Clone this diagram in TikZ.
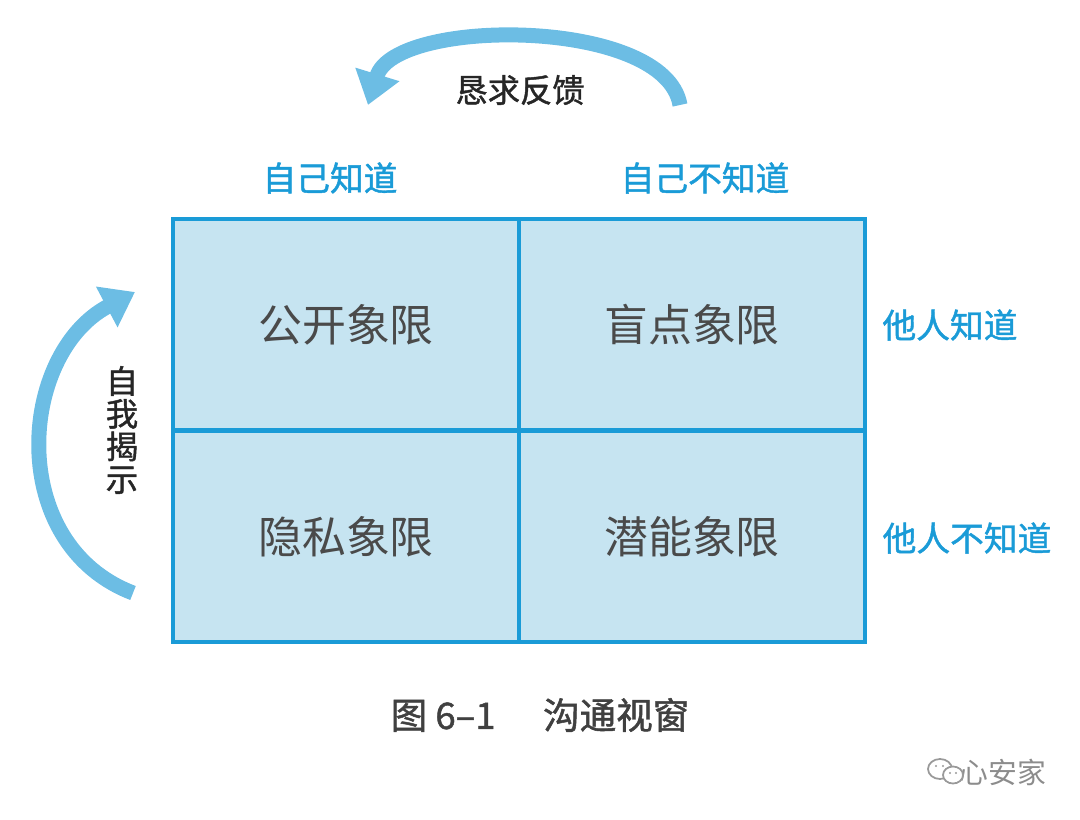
\documentclass[tikz,border=0pt]{standalone}
\usepackage{fontspec}
\usepackage{tikz}
\usetikzlibrary{arrows.meta}
\newfontfamily\cjk{Noto Sans CJK SC}
\newfontfamily\cjkb[FakeBold=1.3]{Noto Sans CJK SC}
\definecolor{gridblue}{HTML}{1A9BD7}
\definecolor{cellfill}{HTML}{C6E4F1}
\definecolor{arcblue}{HTML}{6CBDE4}
\definecolor{quadgray}{HTML}{4A4A4A}

\begin{document}
\begin{tikzpicture}[
    cell/.style={draw=gridblue, fill=cellfill, line width=1.2pt, minimum width=3.46cm, minimum height=2.115cm, inner sep=0pt, text=quadgray, font=\cjk\fontsize{12.5}{14}\selectfont},
    side/.style={text=gridblue, font=\cjkb\fontsize{9.6}{11}\selectfont},
    turn/.style={arcblue, line width=0.15cm, -{Triangle[width=0.44cm,length=0.32cm]}},
    act/.style={text=black!85, font=\cjkb\fontsize{9.2}{9.3}\selectfont, align=center}
]
    \useasboundingbox (0,0) rectangle (10.8,8.19);
    \node [cell] (0) at (3.46, 4.9425) {公开象限};
	\node [cell] (1) at (6.92, 4.9425) {盲点象限};
	\node [cell] (2) at (3.46, 2.8275) {隐私象限};
	\node [cell] (3) at (6.92, 2.8275) {潜能象限};
	\node [side] (4) at (3.30, 6.41) {自己知道};
	\node [side] (5) at (7.05, 6.41) {自己不知道};
	\node [side] (6) at (9.50, 4.94) {他人知道};
	\node [side] (7) at (9.67, 2.81) {他人不知道};
	\node [act] (8) at (5.20, 7.29) {恳求反馈};
	\node [act] (9) at (1.22, 3.89) {自\\我\\揭\\示};
	\node (10) at (6.80, 7.14) {};
	\node (11) at (3.68, 7.14) {};
	\node (12) at (1.33, 2.26) {};
	\node (13) at (1.35, 5.27) {};
	\node [text=black!75, font=\cjkb\fontsize{10.4}{12}\selectfont] (14) at (5.40, 1.04) {图 6–1\hspace{1.3em}沟通视窗};
	\node [text=black!45, font=\cjk\fontsize{8.2}{10}\selectfont] (15) at (10.03, 0.47) {心安家};
	% arrows
	\draw [turn] (10.center) .. controls (6.65, 8.02) and (3.95, 8.02) .. (11.center);
	\draw [turn] (12.center) .. controls (0.05, 2.75) and (0.18, 4.65) .. (13.center);
	% watermark icon
	\draw [black!40, line width=0.5pt] (9.40, 0.50) ellipse (0.12 and 0.10);
	\draw [black!40, line width=0.5pt, fill=white] (9.53, 0.44) ellipse (0.10 and 0.085);
	\fill [black!40] (9.36, 0.53) circle (0.012) (9.43, 0.53) circle (0.012) (9.50, 0.46) circle (0.011) (9.56, 0.46) circle (0.011);
\end{tikzpicture}
\end{document}
